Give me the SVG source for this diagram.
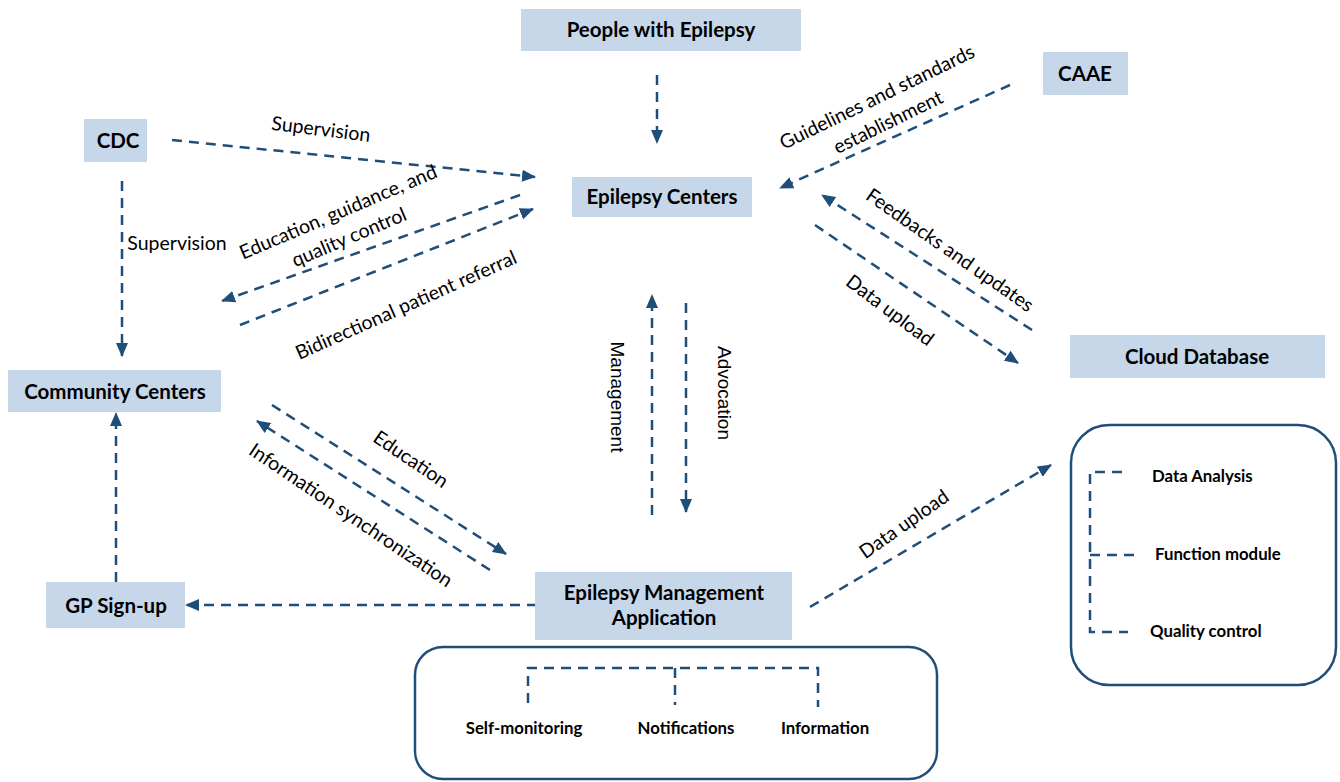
<svg xmlns="http://www.w3.org/2000/svg" width="1340" height="782" viewBox="0 0 1340 782">
<style>
.node{fill:#c6d7ea;stroke:none}
.nt{font-family:Lato,"Liberation Sans",sans-serif;font-weight:bold;font-size:20.5px;fill:#000;text-anchor:middle}
.st{font-family:Lato,"Liberation Sans",sans-serif;font-weight:bold;font-size:16.8px;fill:#000}
.lb{font-family:Lato,"Liberation Sans",sans-serif;font-size:19.5px;fill:#000;text-anchor:middle}
.ab{font-family:"Liberation Sans",Arial,sans-serif;font-size:19px;fill:#000;text-anchor:middle}
.c{stroke:#1f4e79;stroke-width:2.5;fill:none;stroke-dasharray:10 7}
.a{marker-end:url(#ah)}
.frame{fill:#fff;stroke:#1f4e79;stroke-width:2.5}
</style>
<defs>
<marker id="ah" markerUnits="userSpaceOnUse" markerWidth="14" markerHeight="12" refX="13" refY="6" orient="auto">
<path d="M0,0 L14,6 L0,12 z" fill="#1f4e79"/>
</marker>
</defs>
<rect width="1340" height="782" fill="#fff"/>

<g id="connectors">
<line class="c a" x1="657" y1="75" x2="657" y2="143"/>
<line class="c a" x1="172" y1="140" x2="535" y2="177"/>
<line class="c a" x1="122" y1="181" x2="122" y2="356"/>
<line class="c a" x1="520" y1="195" x2="222" y2="301"/>
<line class="c a" x1="240" y1="325" x2="533" y2="209"/>
<line class="c a" x1="1010" y1="85" x2="780" y2="188"/>
<line class="c a" x1="1032" y1="330" x2="822" y2="195"/>
<line class="c a" x1="815" y1="225" x2="1018" y2="363"/>
<line class="c a" x1="652" y1="515" x2="652" y2="295"/>
<line class="c a" x1="686" y1="303" x2="686" y2="512"/>
<line class="c a" x1="272" y1="405" x2="506" y2="554"/>
<line class="c a" x1="490" y1="570" x2="257" y2="421"/>
<line class="c a" x1="537" y1="605" x2="186" y2="605"/>
<line class="c a" x1="116" y1="582" x2="116" y2="413"/>
<line class="c a" x1="810" y1="607" x2="1051" y2="465"/>
</g>

<g id="labels">
<text class="lb" transform="translate(321,129) rotate(7)" dy="0.35em">Supervision</text>
<text class="lb" x="177" y="250">Supervision</text>
<text class="lb" transform="translate(338,212) rotate(-23)" dy="0.35em">Education, guidance, and</text>
<text class="lb" transform="translate(349,237) rotate(-23)" dy="0.35em">quality control</text>
<text class="lb" transform="translate(406,305) rotate(-24)" dy="0.35em">Bidirectional patient referral</text>
<text class="lb" transform="translate(877,97) rotate(-26)" dy="0.35em">Guidelines and standards</text>
<text class="lb" transform="translate(888,122) rotate(-26)" dy="0.35em">establishment</text>
<text class="lb" transform="translate(950,250) rotate(35)" dy="0.35em">Feedbacks and updates</text>
<text class="lb" transform="translate(890,310) rotate(37)" dy="0.35em">Data upload</text>
<text class="ab" transform="translate(618,397) rotate(90)" dy="0.35em">Management</text>
<text class="ab" transform="translate(725,393) rotate(90)" dy="0.35em">Advocation</text>
<text class="lb" transform="translate(411,459) rotate(34)" dy="0.35em">Education</text>
<text class="lb" transform="translate(351,515) rotate(34)" dy="0.35em">Information synchronization</text>
<text class="lb" transform="translate(904,524) rotate(-35)" dy="0.35em">Data upload</text>
</g>

<g id="people">
<rect class="node" x="521" y="9" width="280" height="42"/>
<text class="nt" x="661" y="37">People with Epilepsy</text>
</g>
<g id="caae">
<rect class="node" x="1043" y="52" width="85" height="43"/>
<text class="nt" x="1085" y="81">CAAE</text>
</g>
<g id="cdc">
<rect class="node" x="84" y="119" width="63" height="43"/>
<text class="nt" x="118" y="148">CDC</text>
</g>
<g id="epilepsy-centers">
<rect class="node" x="572" y="177" width="180" height="40"/>
<text class="nt" x="662" y="204">Epilepsy Centers</text>
</g>
<g id="cloud-database">
<rect class="node" x="1070" y="335" width="255" height="43"/>
<text class="nt" x="1197" y="364">Cloud Database</text>
</g>
<g id="community-centers">
<rect class="node" x="8" y="370" width="213" height="42"/>
<text class="nt" x="115" y="399">Community Centers</text>
</g>
<g id="gp-signup">
<rect class="node" x="46" y="582" width="139" height="46"/>
<text class="nt" x="116" y="613">GP Sign-up</text>
</g>
<g id="ema">
<rect class="node" x="535" y="572" width="257" height="68"/>
<text class="nt" x="664" y="600">Epilepsy Management</text>
<text class="nt" x="664" y="625">Application</text>
</g>

<g id="app-modules">
<rect class="frame" x="415" y="647" width="522" height="132" rx="28"/>
<path class="c" d="M528,703 V668 H818 V707 M675,668 V705"/>
<text class="st" x="524" y="734" text-anchor="middle">Self-monitoring</text>
<text class="st" x="686" y="734" text-anchor="middle">Notifications</text>
<text class="st" x="825" y="734" text-anchor="middle">Information</text>
</g>

<g id="cloud-modules">
<rect class="frame" x="1071" y="425" width="265" height="260" rx="38"/>
<path class="c" d="M1122,472 H1090 V632 H1128 M1090,555 H1135"/>
<text class="st" x="1152" y="482">Data Analysis</text>
<text class="st" x="1155" y="560">Function module</text>
<text class="st" x="1150" y="637">Quality control</text>
</g>
</svg>
